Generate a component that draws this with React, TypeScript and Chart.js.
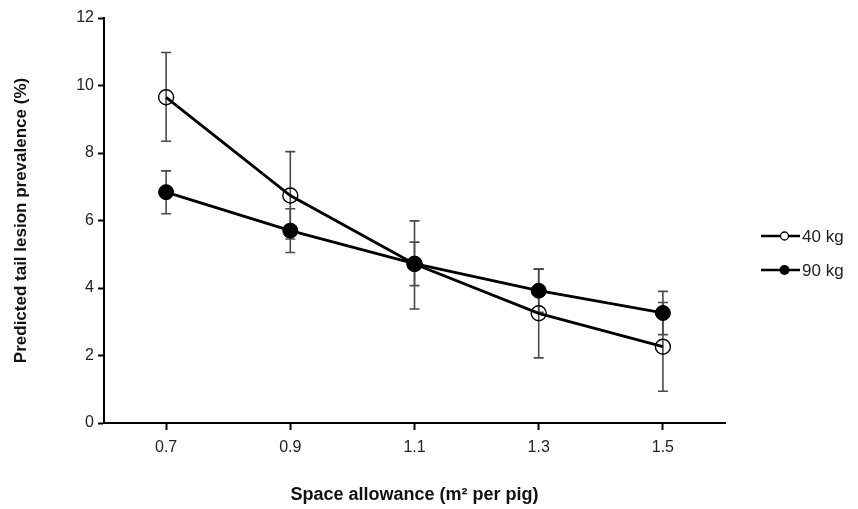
import React, { useEffect, useRef } from "react";
import { Chart, registerables } from "chart.js";

Chart.register(...registerables);

const spaceAllowance = [0.7, 0.9, 1.1, 1.3, 1.5];
const xTickValues = [0.7, 0.9, 1.1, 1.3, 1.5];
const yTickValues = [0, 2, 4, 6, 8, 10, 12];
const seriesLabels = ["40 kg", "90 kg"];

const prev40 = [9.65, 6.74, 4.71, 3.25, 2.26];
const low40 = [8.35, 5.45, 3.38, 1.93, 0.94];
const high40 = [10.98, 8.04, 5.99, 4.56, 3.57];

const prev90 = [6.84, 5.7, 4.72, 3.92, 3.26];
const low90 = [6.2, 5.05, 4.07, 3.28, 2.62];
const high90 = [7.47, 6.35, 5.36, 4.56, 3.9];

const FONT = "'Liberation Sans', Arial, Helvetica, sans-serif";

const errorBarPlugin = {
  id: "errorBars",
  beforeDatasetsDraw(chart: any) {
    const { ctx, scales } = chart;
    const x = scales.x;
    const y = scales.y;
    ctx.save();
    ctx.strokeStyle = "#4a4a4a";
    ctx.lineWidth = 1.6;
    const cap = 5;
    chart.data.datasets.forEach((ds: any) => {
      ds.errLow.forEach((lo: number, i: number) => {
        const hi = ds.errHigh[i];
        const px = x.getPixelForValue(ds.data[i].x);
        const pl = y.getPixelForValue(lo);
        const ph = y.getPixelForValue(hi);
        ctx.beginPath();
        ctx.moveTo(px, pl);
        ctx.lineTo(px, ph);
        ctx.moveTo(px - cap, pl);
        ctx.lineTo(px + cap, pl);
        ctx.moveTo(px - cap, ph);
        ctx.lineTo(px + cap, ph);
        ctx.stroke();
      });
    });
    ctx.restore();
  },
};

const legendPlugin = {
  id: "customLegend",
  afterDraw(chart: any) {
    const { ctx } = chart;
    const x0 = 761;
    const x1 = 800;
    const ys = [236, 270];
    ctx.save();
    chart.data.datasets.forEach((ds: any, i: number) => {
      const yy = ys[i];
      ctx.strokeStyle = "#000";
      ctx.lineWidth = 2.6;
      ctx.beginPath();
      ctx.moveTo(x0, yy);
      ctx.lineTo(x1, yy);
      ctx.stroke();
      const cx = (x0 + x1) / 2 + 4;
      ctx.beginPath();
      if (ds.pointBackgroundColor === "#000") {
        ctx.arc(cx, yy, 5, 0, Math.PI * 2);
        ctx.fillStyle = "#000";
        ctx.fill();
      } else {
        ctx.arc(cx, yy, 4, 0, Math.PI * 2);
        ctx.fillStyle = "#fff";
        ctx.fill();
        ctx.lineWidth = 1.3;
        ctx.stroke();
      }
      ctx.fillStyle = "#222";
      ctx.font = `17px ${FONT}`;
      ctx.textBaseline = "middle";
      ctx.textAlign = "left";
      ctx.fillText(ds.label, x1 + 2, yy + 1);
    });
    ctx.restore();
  },
};

export default function App() {
  const canvasRef = useRef<HTMLCanvasElement | null>(null);

  useEffect(() => {
    if (!canvasRef.current) return;
    const chart = new Chart(canvasRef.current, {
      type: "line",
      data: {
        datasets: [
          {
            label: seriesLabels[0],
            data: spaceAllowance.map((v, i) => ({ x: v, y: prev40[i] })),
            errLow: low40,
            errHigh: high40,
            borderColor: "#000",
            borderWidth: 2.8,
            pointRadius: 7.5,
            pointBorderWidth: 1.4,
            pointBorderColor: "#000",
            pointBackgroundColor: "rgba(255,255,255,0)",
            order: 1,
          } as any,
          {
            label: seriesLabels[1],
            data: spaceAllowance.map((v, i) => ({ x: v, y: prev90[i] })),
            errLow: low90,
            errHigh: high90,
            borderColor: "#000",
            borderWidth: 2.8,
            pointRadius: 7.5,
            pointBorderWidth: 1,
            pointBorderColor: "#000",
            pointBackgroundColor: "#000",
            order: 0,
          } as any,
        ],
      },
      options: {
        animation: false,
        responsive: false,
        maintainAspectRatio: false,
        layout: { padding: { top: 18, right: 133, left: 0, bottom: 0 } },
        plugins: {
          legend: { display: false },
          tooltip: { enabled: false },
        },
        scales: {
          x: {
            type: "linear",
            min: 0.6,
            max: 1.6,
            afterBuildTicks: (scale: any) => {
              scale.ticks = xTickValues.map((v) => ({ value: v }));
            },
            afterFit: (scale: any) => {
              scale.height = 86;
            },
            border: { display: true, color: "#000", width: 2 },
            grid: {
              drawOnChartArea: false,
              drawTicks: true,
              tickLength: 7,
              tickColor: "#000",
              tickWidth: 2,
            },
            ticks: {
              color: "#222",
              font: { family: FONT, size: 16 },
              padding: 8,
              maxRotation: 0,
              callback: (v: any) => Number(v).toFixed(1),
            },
            title: {
              display: true,
              text: "Space allowance (m² per pig)",
              color: "#111",
              font: { family: FONT, size: 18, weight: "bold" },
              padding: { top: 0, bottom: 3 },
            },
          },
          y: {
            type: "linear",
            min: 0,
            max: 12,
            afterBuildTicks: (scale: any) => {
              scale.ticks = yTickValues.map((v) => ({ value: v }));
            },
            afterFit: (scale: any) => {
              scale.width = 104;
            },
            border: { display: true, color: "#000", width: 2 },
            grid: {
              drawOnChartArea: false,
              drawTicks: true,
              tickLength: 6,
              tickColor: "#000",
              tickWidth: 2,
            },
            ticks: {
              color: "#222",
              font: { family: FONT, size: 16 },
              padding: 4,
            },
            title: {
              display: true,
              text: "Predicted tail lesion prevalence (%)",
              color: "#111",
              font: { family: FONT, size: 17, weight: "bold" },
              padding: { top: 11, bottom: 0 },
            },
          },
        },
      },
      plugins: [errorBarPlugin, legendPlugin],
    });
    return () => chart.destroy();
  }, []);

  return (
    <div style={{ position: "fixed", left: 0, top: 0, width: 858, height: 509, background: "#fff" }}>
      <canvas ref={canvasRef} width={858} height={509} style={{ width: 858, height: 509, display: "block" }} />
    </div>
  );
}
